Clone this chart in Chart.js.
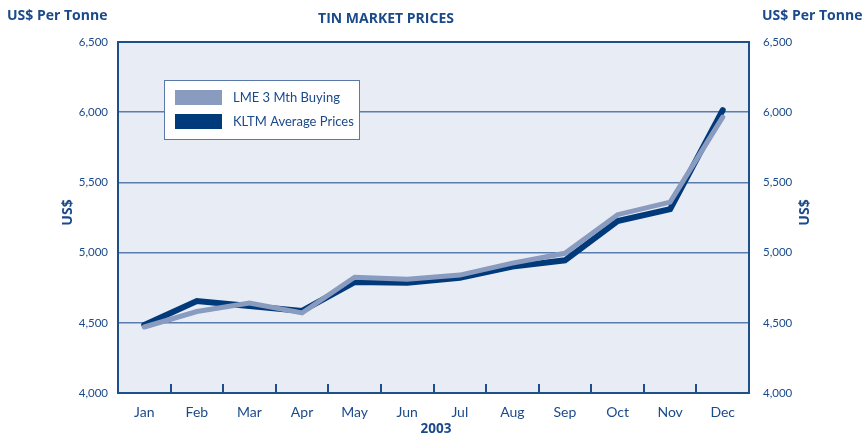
<!DOCTYPE html>
<html>
<head>
<meta charset="utf-8">
<script src="https://cdn.jsdelivr.net/npm/chart.js@4/dist/chart.umd.min.js"></script>
<style>
html,body{margin:0;padding:0;background:#fff;}
#wrap{width:864px;height:435px;position:relative;}
</style>
</head>
<body>
<div id="wrap"><canvas id="c" width="864" height="435"></canvas></div>
<script>
const months = ['Jan','Feb','Mar','Apr','May','Jun','Jul','Aug','Sep','Oct','Nov','Dec'];
const lmeValues  = [4470, 4580, 4640, 4570, 4825, 4810, 4840, 4925, 4995, 5270, 5360, 5965];
const kltmValues = [4485, 4655, 4620, 4585, 4790, 4785, 4820, 4900, 4945, 5225, 5310, 6015];
const yTicks = [4000, 4500, 5000, 5500, 6000, 6500];
const seriesNames = ['LME 3 Mth Buying', 'KLTM Average Prices'];
const chartTitle = 'TIN MARKET PRICES';
const unitLabel = 'US$ Per Tonne';
const axisTitle = 'US$';
const xTitle = '2003';

const TXT = '#1b4a8a';
const NAVY = '#003a7a';
const LIGHT = '#8a9bc0';
const FONT = 'Lato, "Open Sans", sans-serif';
const BFONT = '"Open Sans", Lato, sans-serif';

const decor = {
  id: 'decor',
  beforeDraw(chart) {
    const {ctx, chartArea: a} = chart;
    ctx.save();
    ctx.fillStyle = '#e8ecf4';
    ctx.fillRect(a.left, a.top, a.right - a.left, a.bottom - a.top);
    ctx.restore();
  },
  afterDatasetsDraw(chart) {
    const {ctx, chartArea: a, scales} = chart;
    const xs = scales.x;
    ctx.save();
    ctx.strokeStyle = '#1d4f8a';
    ctx.lineWidth = 2;
    ctx.strokeRect(a.left, a.top, a.right - a.left, a.bottom - a.top);
    for (let i = 1; i < months.length; i++) {
      const x = Math.round((xs.getPixelForValue(i - 1) + xs.getPixelForValue(i)) / 2);
      ctx.beginPath();
      ctx.moveTo(x, a.bottom);
      ctx.lineTo(x, a.bottom - 9);
      ctx.stroke();
    }
    const lx = a.left + 46, ly = a.top + 38, lw = 195, lh = 59;
    ctx.fillStyle = '#ffffff';
    ctx.fillRect(lx, ly, lw, lh);
    ctx.strokeStyle = '#5a78a8';
    ctx.lineWidth = 1;
    ctx.strokeRect(lx + 0.5, ly + 0.5, lw, lh);
    chart.data.datasets.forEach((ds, i) => {
      const sy = ly + 10 + i * 24;
      ctx.fillStyle = ds.borderColor;
      ctx.fillRect(lx + 11, sy, 47, 15);
      ctx.fillStyle = TXT;
      ctx.font = '13px ' + FONT;
      ctx.textBaseline = 'middle';
      ctx.textAlign = 'left';
      ctx.fillText(ds.label, lx + 69, sy + 8);
    });
    ctx.fillStyle = TXT;
    ctx.font = 'bold 14px ' + BFONT;
    ctx.textAlign = 'left';
    ctx.textBaseline = 'middle';
    ctx.fillText(unitLabel, 7, 16);
    ctx.fillText(unitLabel, 762, 16);
    ctx.textAlign = 'center';
    ctx.fillText(chartTitle, 386, 19);
    ctx.font = 'bold 13.5px ' + BFONT;
    ctx.fillText(xTitle, 436, 429);
    const cy = (a.top + a.bottom) / 2 - 5;
    [[68, cy], [805, cy]].forEach(([x, y]) => {
      ctx.save();
      ctx.translate(x, y);
      ctx.rotate(-Math.PI / 2);
      ctx.font = 'bold 14px ' + BFONT;
      ctx.fillText(axisTitle, 0, 0);
      ctx.restore();
    });
    ctx.restore();
  }
};

const yCommon = {
  min: yTicks[0],
  max: yTicks[yTicks.length - 1],
  afterBuildTicks(s) { s.ticks = yTicks.map(v => ({value: v})); },
  border: {display: false},
  ticks: {
    color: TXT,
    font: {family: FONT, size: 11.5},
    callback: v => v.toLocaleString('en-US')
  }
};

new Chart(document.getElementById('c'), {
  type: 'line',
  data: {
    labels: months,
    datasets: [
      {label: seriesNames[0], data: lmeValues, borderColor: LIGHT, backgroundColor: LIGHT,
       borderWidth: 5, pointRadius: 0, tension: 0, borderCapStyle: 'round', borderJoinStyle: 'miter'},
      {label: seriesNames[1], data: kltmValues, borderColor: NAVY, backgroundColor: NAVY,
       borderWidth: 6, pointRadius: 0, tension: 0, borderCapStyle: 'round', borderJoinStyle: 'miter'}
    ]
  },
  options: {
    responsive: false,
    animation: false,
    events: [],
    layout: {padding: {top: 42, left: 0, right: 0, bottom: 0}},
    plugins: {legend: {display: false}, tooltip: {enabled: false}, title: {display: false}},
    scales: {
      x: {
        offset: true,
        grid: {display: false},
        border: {display: false},
        ticks: {color: TXT, font: {family: FONT, size: 14}, padding: 3, maxRotation: 0, autoSkip: false},
        afterFit(s) { s.height = 42; }
      },
      y: Object.assign({}, yCommon, {
        position: 'left',
        grid: {color: '#5a7db0', lineWidth: 1.5, drawTicks: false},
        ticks: Object.assign({}, yCommon.ticks, {padding: 10}),
        afterFit(s) { s.width = 118; }
      }),
      y2: Object.assign({}, yCommon, {
        position: 'right',
        grid: {display: false, drawTicks: false},
        ticks: Object.assign({}, yCommon.ticks, {padding: 14}),
        afterFit(s) { s.width = 115; }
      })
    }
  },
  plugins: [decor]
});
</script>
</body>
</html>
